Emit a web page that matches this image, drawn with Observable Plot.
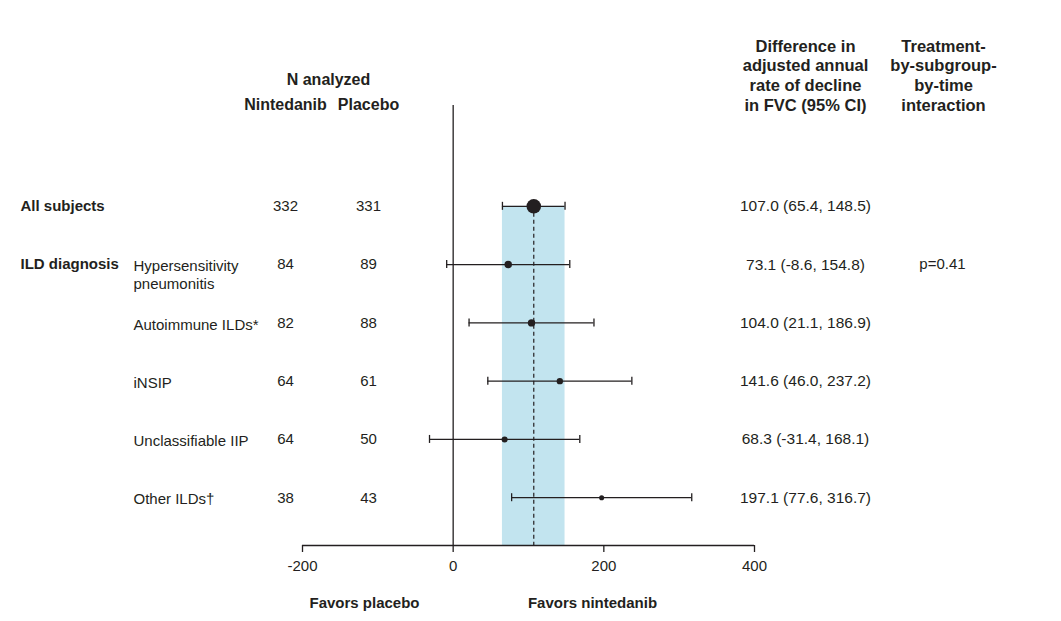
<!DOCTYPE html>
<html>
<head>
<meta charset="utf-8">
<script src="https://cdn.jsdelivr.net/npm/d3@7"></script>
<script src="https://cdn.jsdelivr.net/npm/@observablehq/plot@0.6"></script>
<style>
  html, body { margin: 0; padding: 0; background: #fff; }
  #chart svg { display: block; }
</style>
</head>
<body>
<div id="chart"></div>
<script>
// ---- Data ----
const groups = ["All subjects", "ILD diagnosis", "", "", "", ""];
const subgroups = ["", "Hypersensitivity\npneumonitis", "Autoimmune ILDs*", "iNSIP", "Unclassifiable IIP", "Other ILDs†"];
const nNintedanib = [332, 84, 82, 64, 64, 38];
const nPlacebo = [331, 89, 88, 61, 50, 43];
const estimate = [107.0, 73.1, 104.0, 141.6, 68.3, 197.1];
const lower = [65.4, -8.6, 21.1, 46.0, -31.4, 77.6];
const upper = [148.5, 154.8, 186.9, 237.2, 168.1, 316.7];
const pInteraction = ["", "p=0.41", "", "", "", ""];
const xTicks = [-200, 0, 200, 400];
const xLabels = ["Favors placebo", "Favors nintedanib"];
const headerN = ["N analyzed", "Nintedanib", "Placebo"];
const headerDiff = "Difference in\nadjusted annual\nrate of decline\nin FVC (95% CI)";
const headerP = "Treatment-\nby-subgroup-\nby-time\ninteraction";

const rows = estimate.map((e, i) => ({
  i,
  group: groups[i],
  sub: subgroups[i],
  nN: nNintedanib[i],
  nP: nPlacebo[i],
  total: nNintedanib[i] + nPlacebo[i],
  est: e,
  lo: lower[i],
  hi: upper[i],
  ci: `${e.toFixed(1)} (${lower[i].toFixed(1)}, ${upper[i].toFixed(1)})`,
  p: pInteraction[i]
}));

// ---- Layout / style ----
const W = 1061, H = 621, ML = 302, MR = 307, MT = 105, MB = 76;
const XR = W - MR;
const yDomain = [-1.73, 5.82];
const ink = "#231f20";
const band = "#c2e4ef";
const font = "'Liberation Sans', Arial, Helvetica, sans-serif";

function label(text, px, py, opts = {}) {
  return Plot.text([text], {
    text: d => d,
    frameAnchor: "top-left",
    dx: px - ML,
    dy: py - MT,
    textAnchor: "middle",
    lineAnchor: "middle",
    fill: ink,
    ...opts
  });
}

const chart = Plot.plot({
  width: W,
  height: H,
  marginLeft: ML,
  marginRight: MR,
  marginTop: MT,
  marginBottom: MB,
  style: { fontFamily: font, fontSize: "15px", color: ink, background: "white", overflow: "visible" },
  x: { domain: [-200, 400] },
  y: { domain: yDomain, reverse: true, axis: null },
  r: { type: "sqrt", domain: [0, d3.max(rows, d => d.total)], range: [0, 7.3] },
  marks: [
    // overall CI band and overall estimate line
    Plot.rect([rows[0]], { x1: "lo", x2: "hi", y1: "i", y2: () => yDomain[1], fill: band }),
    Plot.ruleX([rows[0]], { x: "est", y1: "i", y2: () => yDomain[1], stroke: ink, strokeWidth: 1.2, strokeDasharray: "4,3" }),
    // zero line and axis line
    Plot.ruleX([0], { stroke: ink, strokeWidth: 1.3 }),
    Plot.ruleY([yDomain[1]], { stroke: ink, strokeWidth: 1.3 }),
    Plot.axisX({ ticks: xTicks, tickSize: 7, tickPadding: 8, tickFormat: d => String(d), strokeWidth: 1.3, fontSize: 15, label: null }),
    // CI whiskers with caps
    Plot.ruleY(rows, { x1: "lo", x2: "hi", y: "i", stroke: ink, strokeWidth: 1.3 }),
    Plot.ruleX(rows, { x: "lo", y1: "i", y2: "i", insetTop: -4, insetBottom: -4, stroke: ink, strokeWidth: 1.3 }),
    Plot.ruleX(rows, { x: "hi", y1: "i", y2: "i", insetTop: -4, insetBottom: -4, stroke: ink, strokeWidth: 1.3 }),
    // point estimates sized by N
    Plot.dot(rows, { x: "est", y: "i", r: "total", fill: ink, stroke: null }),
    // row texts
    Plot.text(rows, { y: "i", text: "group", frameAnchor: "left", dx: 20 - ML, textAnchor: "start", lineAnchor: "middle", fontWeight: "bold", fill: ink }),
    Plot.text(rows, { y: "i", text: "sub", frameAnchor: "left", dx: 133 - ML, dy: -6, textAnchor: "start", lineAnchor: "top", lineHeight: 1.2, fill: ink }),
    Plot.text(rows, { y: "i", text: "nN", frameAnchor: "left", dx: 285 - ML, textAnchor: "middle", lineAnchor: "middle", fill: ink }),
    Plot.text(rows, { y: "i", text: "nP", frameAnchor: "left", dx: 368 - ML, textAnchor: "middle", lineAnchor: "middle", fill: ink }),
    Plot.text(rows, { y: "i", text: "ci", frameAnchor: "right", dx: 805 - XR, textAnchor: "middle", lineAnchor: "middle", fontSize: 15.5, fill: ink }),
    Plot.text(rows, { y: "i", text: "p", frameAnchor: "right", dx: 942 - XR, textAnchor: "middle", lineAnchor: "middle", fill: ink }),
    // headers
    label(headerN[0], 328, 79, { fontWeight: "bold", fontSize: 16 }),
    label(headerN[1], 285, 104, { fontWeight: "bold", fontSize: 16 }),
    label(headerN[2], 368, 104, { fontWeight: "bold", fontSize: 16 }),
    label(headerDiff, 805, 37, { fontWeight: "bold", fontSize: 16.5, lineAnchor: "top", lineHeight: 1.2 }),
    label(headerP, 943, 37, { fontWeight: "bold", fontSize: 16.5, lineAnchor: "top", lineHeight: 1.2 }),
    // direction labels
    label(xLabels[0], 364, 603, { fontWeight: "bold" }),
    label(xLabels[1], 592, 603, { fontWeight: "bold" })
  ]
});

document.getElementById("chart").appendChild(chart);
</script>
</body>
</html>
